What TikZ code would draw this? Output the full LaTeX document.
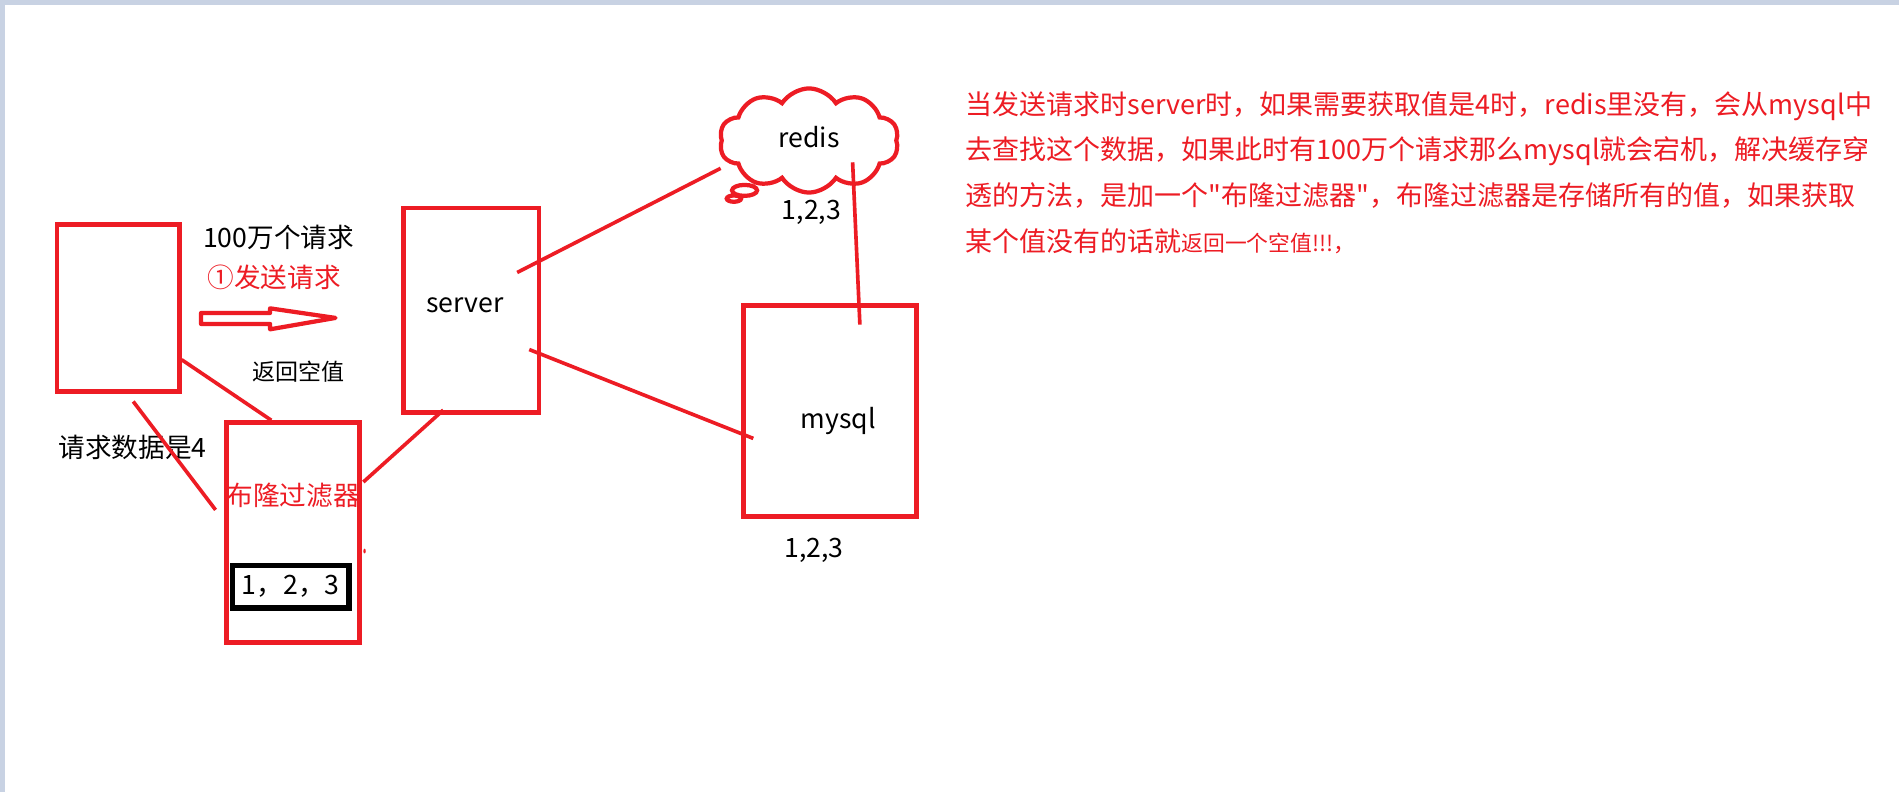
\documentclass[tikz,border=0pt]{standalone}
\usepackage{fontspec}
\newfontfamily\cjk{Noto Sans CJK SC}
\usetikzlibrary{shapes.symbols,shapes.callouts}
\definecolor{pred}{HTML}{ED1C24}
\definecolor{frame}{HTML}{C8D2E3}
\tikzset{
  redbox/.style={draw=pred,line width=4pt,rectangle,inner sep=0pt},
  conn/.style={draw=pred,line width=3pt},
  lbl/.style={inner sep=0pt,font=\cjk\fontsize{22}{26}\selectfont},
  rlbl/.style={lbl,text=pred},
  para/.style={rlbl,anchor=west,font=\cjk\fontsize{22.3}{26}\selectfont},
}
\begin{document}
\cjk
\begin{tikzpicture}[x=1pt,y=-1pt]
\useasboundingbox (0,0) rectangle (1568,654);
\fill[white] (0,0) rectangle (1568,654);
\fill[frame] (0,0) rectangle (1568,4);
\fill[frame] (0,0) rectangle (4,654);
% boxes
\node[redbox,minimum width=101pt,minimum height=137.5pt] (client) at (97.5,254.25) {};
\node[redbox,minimum width=112pt,minimum height=169pt] (server) at (389,256.25) {};
\node[redbox,minimum width=110pt,minimum height=181.5pt] (bloom) at (242,439.75) {};
\node[redbox,minimum width=143pt,minimum height=174.7pt] (mysql) at (685.5,339.35) {};
\node[draw=black,line width=4.5pt,minimum width=96pt,minimum height=35pt,inner sep=0pt] (vals) at (240,484.5) {};
% cloud
\node[cloud callout,draw=pred,line width=3.5pt,cloud puffs=10,cloud puff arc=115,aspect=1.8,
  minimum width=148pt,minimum height=86pt,inner sep=0pt,
  callout absolute pointer={(606,164)},callout pointer segments=2,
  callout pointer start size=.2 of callout,callout pointer end size=.08 of callout] (redis) at (668,116) {};
% hollow arrow
\draw[pred,line width=3.5pt,line join=round] (166,258.4) -- (223,258.4) -- (223,254.6) -- (277,262.5)
  -- (223,271.9) -- (223,267.5) -- (166,267.5) -- cycle;
% texts
\node[lbl] (t100) at (230,196) {100万个请求};
\node[rlbl] (tsend) at (226.5,229) {①发送请求};
\node[lbl,font=\cjk\fontsize{19}{22}\selectfont] (tret) at (246.5,307) {返回空值};
\node[lbl] (treq) at (109.5,369) {请求数据是4};
\node[rlbl] (tbloom) at (242,409) {布隆过滤器};
\node[lbl] (tvals) at (240,484) {1，2，3};
\node[lbl] (tserver) at (384,252) {server};
\node[lbl] (tmysql) at (692,348) {mysql};
\node[lbl] (tmv) at (672,454.5) {1,2,3};
\node[lbl] (trv) at (670,175) {1,2,3};
\node[lbl] (tredis) at (668,113) {redis};
% paragraph
\node[para] (p1) at (797,87.6) {当发送请求时server时，如果需要获取值是4时，redis里没有，会从mysql中};
\node[para] (p2) at (797,125.1) {去查找这个数据，如果此时有100万个请求那么mysql就会宕机，解决缓存穿};
\node[para] (p3) at (797,161.8) {透的方法，是加一个"布隆过滤器"，布隆过滤器是存储所有的值，如果获取};
\node[para] (p4) at (797,199.3) {某个值没有的话就{\fontsize{18}{20}\selectfont 返回一个空值!!!，}};
% connector ends
\coordinate (a1) at (427,225); \coordinate (a2) at (595,139);
\coordinate (b1) at (704,134); \coordinate (b2) at (710,268);
\coordinate (c1) at (437,288.6); \coordinate (c2) at (622,362);
\coordinate (d1) at (150,297); \coordinate (d2) at (224,347);
\coordinate (e1) at (110,331.5); \coordinate (e2) at (178,421);
\coordinate (f1) at (366,338.6); \coordinate (f2) at (300,398);
\draw[conn] (a1) -- (a2);
\draw[conn] (b1) -- (b2);
\draw[conn] (c1) -- (c2);
\draw[conn] (d1) -- (d2);
\draw[conn] (e1) -- (e2);
\draw[conn] (f1) -- (f2);
\fill[pred] (301,455) ellipse (1pt and 2pt);
\end{tikzpicture}
\end{document}
